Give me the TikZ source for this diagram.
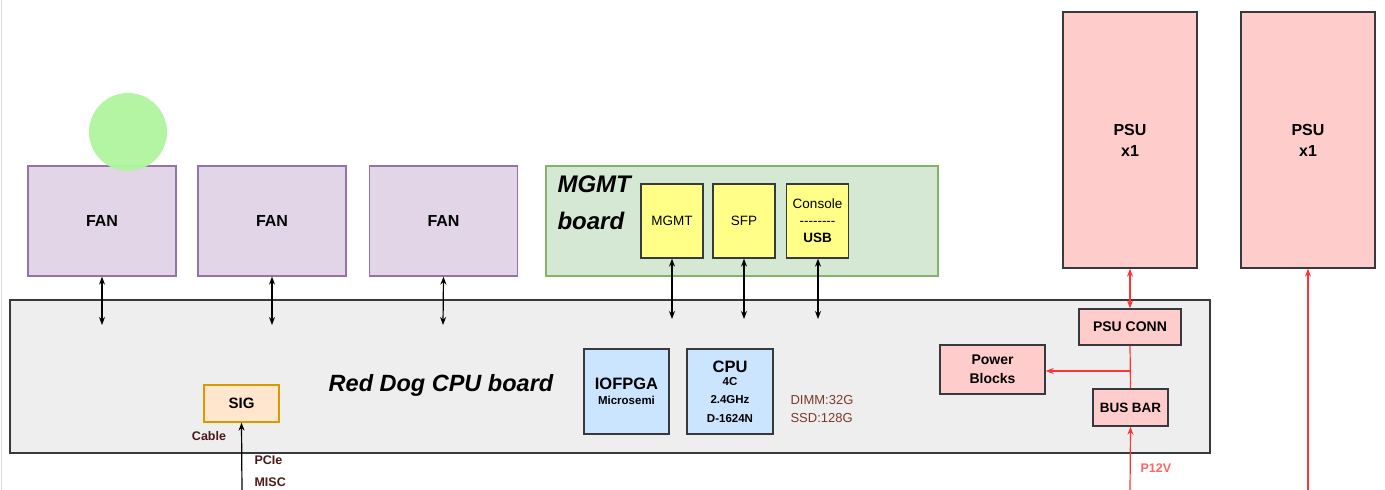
\documentclass[tikz,border=0pt]{standalone}
\usepackage{fontspec}
\setmainfont{Liberation Sans}
\usetikzlibrary{arrows.meta}
\definecolor{fanfill}{HTML}{E1D5E7}
\definecolor{fandraw}{HTML}{9673A6}
\definecolor{mgfill}{HTML}{D5E8D4}
\definecolor{mgdraw}{HTML}{82B366}
\definecolor{yel}{HTML}{FFFF88}
\definecolor{dk}{HTML}{36393D}
\definecolor{cpufill}{HTML}{EEEEEE}
\definecolor{blu}{HTML}{CCE5FF}
\definecolor{pink}{HTML}{FFCCCC}
\definecolor{sigfill}{HTML}{FFE6CC}
\definecolor{sigdraw}{HTML}{D79B00}
\definecolor{circ}{HTML}{B0F5A0}
\definecolor{redl}{HTML}{FF3333}
\definecolor{brn}{HTML}{4D1A1A}
\definecolor{dimm}{HTML}{7A3A2A}
\definecolor{ptv}{HTML}{FF6666}
\begin{document}
\begin{tikzpicture}[x=1pt,y=-1pt,
  box/.style={draw=dk,line width=1.3pt,inner sep=0pt,align=center,font=\bfseries},
  fanbox/.style={box,draw=fandraw,fill=fanfill,minimum width=148pt,minimum height=110pt,font=\bfseries\fontsize{16}{18}\selectfont},
  ybox/.style={box,fill=yel,minimum width=62pt,minimum height=74pt,font=\fontsize{13.5}{17}\selectfont},
  bbox/.style={box,fill=blu,minimum width=86pt,minimum height=85pt},
  pbox/.style={box,fill=pink},
  arr/.style={-{Stealth[length=8pt,width=6pt]},line width=1.2pt},
  barr/.style={{Stealth[length=8pt,width=6pt]}-{Stealth[length=8pt,width=6pt]},line width=1.2pt},
  rarr/.style={arr,draw=redl},
  rbarr/.style={barr,draw=redl}]
\useasboundingbox (0,0) rectangle (1385,490);
\fill[white] (0,0) rectangle (1385,490);
\draw[gray!30,line width=1pt] (1,0) -- (1,490);
% CPU board
\node[box,fill=cpufill,minimum width=1200pt,minimum height=153pt] (cpub) at (610,376.5) {};
\node[font=\bfseries\itshape\fontsize{23.5}{26}\selectfont] (cpulbl) at (441,385) {Red Dog CPU board};
% fans
\node[fanbox] (fan1) at (102,221) {FAN};
\node[fanbox] (fan2) at (272,221) {FAN};
\node[fanbox] (fan3) at (443.5,221) {FAN};
\fill[circ,opacity=0.95] (128,132) circle (39pt);
% MGMT board
\node[box,draw=mgdraw,fill=mgfill,minimum width=392pt,minimum height=110pt] (mgb) at (742,221) {};
\node[font=\bfseries\itshape\fontsize{24}{37}\selectfont,align=left,anchor=base west] (mglbl) at (554,229) {MGMT\\board};
\node[ybox] (mgmt) at (672,221) {MGMT};
\node[ybox] (sfp) at (744,221) {SFP};
\node[ybox,font=\fontsize{13.5}{18}\selectfont] (cons) at (817.5,221) {Console\\[-1pt]-{}-{}-{}-{}-{}-{}-{}-{}\\[-1pt]\bfseries USB};
% arrows to fans
\coordinate (f1e) at (102,325);
\coordinate (f2e) at (272,325);
\coordinate (f3e) at (443,325);
\draw[barr] (fan1.south) -- (f1e);
\draw[barr] (fan2.south) -- (f2e);
\draw[barr] (fan3.south) -- (f3e);
\coordinate (m1e) at (672,319);
\coordinate (m2e) at (744,319);
\coordinate (m3e) at (818,319);
\draw[barr] (mgmt.south) -- (m1e);
\draw[barr] (sfp.south) -- (m2e);
\draw[barr] (cons.south -| m3e) -- (m3e);
% CPU / IOFPGA
\node[bbox,minimum width=85pt] (iof) at (626.5,391.5) {\fontsize{16.5}{18}\selectfont IOFPGA\\[3pt]\fontsize{11.5}{12}\selectfont Microsemi};
\node[bbox] (cpu) at (730,391.5) {\fontsize{16.5}{17}\selectfont CPU\\[1pt]\fontsize{11.5}{12}\selectfont 4C\\[6.5pt]\fontsize{11.5}{12}\selectfont 2.4GHz\\[6.5pt]\fontsize{11.5}{12}\selectfont D-1624N};
\node[text=dimm,font=\fontsize{13}{18}\selectfont,align=left,anchor=west] (dimmt) at (787,409) {DIMM:32G\\SSD:128G};
% SIG
\node[box,draw=sigdraw,fill=sigfill,minimum width=75pt,minimum height=37pt,font=\bfseries\fontsize{15}{16}\selectfont] (sig) at (241.5,403.5) {SIG};
\node[text=brn,font=\bfseries\fontsize{12.5}{14}\selectfont] (cable) at (209,436) {Cable};
\coordinate (sige) at (242,492);
\draw[arr] (sige) -- (sig.south);
\node[text=brn,font=\bfseries\fontsize{12.5}{14}\selectfont,anchor=west] (pcie) at (251,460) {PCIe};
\node[text=brn,font=\bfseries\fontsize{12.5}{14}\selectfont,anchor=west] (misc) at (251,482) {MISC};
% PSUs
\node[pbox,minimum width=134pt,minimum height=256pt,font=\bfseries\fontsize{16}{21}\selectfont] (psu1) at (1130,140) {PSU\\x1};
\node[pbox,minimum width=134pt,minimum height=256pt,font=\bfseries\fontsize{16}{21}\selectfont] (psu2) at (1308,140) {PSU\\x1};
\node[pbox,minimum width=102pt,minimum height=36pt,font=\bfseries\fontsize{14}{16}\selectfont] (pconn) at (1130,327) {PSU CONN};
\node[pbox,minimum width=105pt,minimum height=49pt,font=\bfseries\fontsize{14}{19}\selectfont] (pblk) at (992.5,369.5) {Power\\Blocks};
\node[pbox,minimum width=75pt,minimum height=37pt,font=\bfseries\fontsize{13.5}{16}\selectfont] (bbar) at (1130.5,407.5) {BUS BAR};
\draw[rbarr] (psu1.south) -- (pconn.north);
\draw[redl,line width=1.2pt] (pconn.south) -- (bbar.north);
\coordinate (tee) at (1130,371);
\draw[rarr] (tee) -- (tee -| pblk.east);
\coordinate (p12e) at (1130,492);
\draw[rarr] (p12e) -- (bbar.south);
\node[text=ptv,font=\bfseries\fontsize{12.5}{14}\selectfont,anchor=west] (p12) at (1137,468) {P12V};
\coordinate (psu2e) at (1308,492);
\draw[rarr] (psu2e) -- (psu2.south);
\end{tikzpicture}
\end{document}
